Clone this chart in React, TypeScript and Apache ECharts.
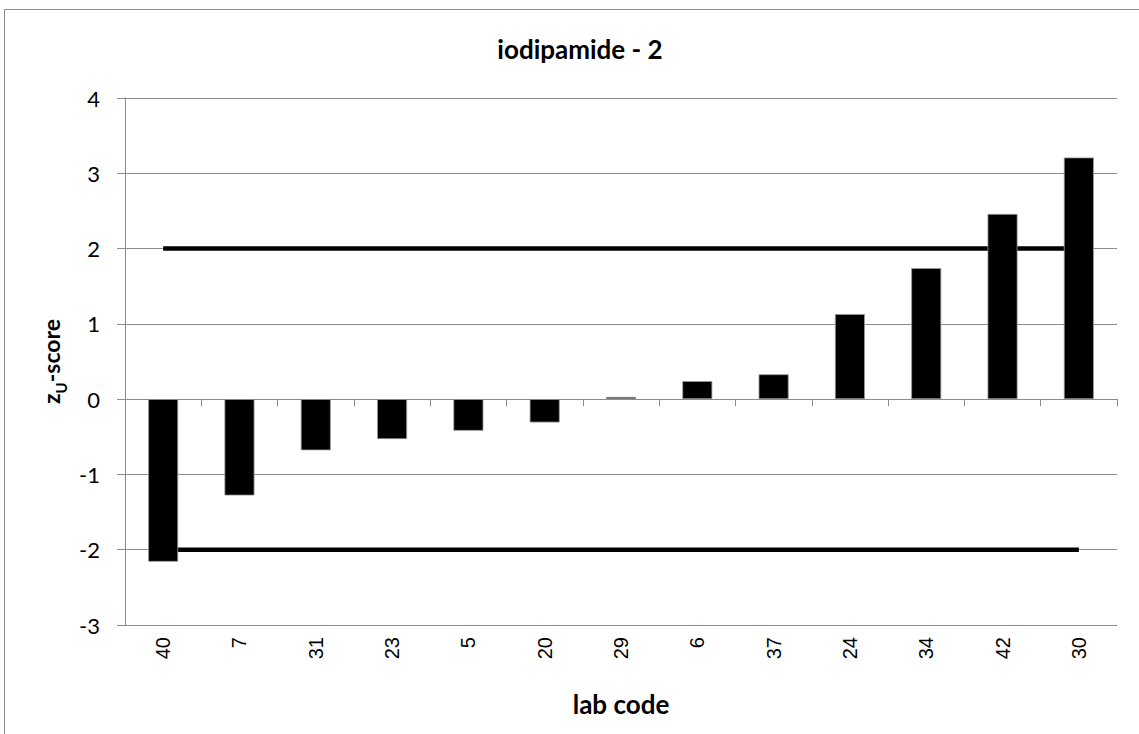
import React, { useEffect, useRef } from "react";
import * as echarts from "echarts";

const labCodes = ["40", "7", "31", "23", "5", "20", "29", "6", "37", "24", "34", "42", "30"];
const zScores = [-2.16, -1.28, -0.68, -0.53, -0.42, -0.31, 0.03, 0.24, 0.33, 1.13, 1.74, 2.46, 3.21];
const upperLimit = labCodes.map(() => 2);
const lowerLimit = labCodes.map(() => -2);
const yTicks = [-3, -2, -1, 0, 1, 2, 3, 4];

const GRID = "#8c8c8c";
const LABEL_FONT = "Lato, 'Open Sans', sans-serif";

export default function App() {
  const ref = useRef<HTMLDivElement>(null);
  useEffect(() => {
    if (!ref.current) return;
    const chart = echarts.init(ref.current, null, { renderer: "svg" });
    chart.setOption({
      animation: false,
      backgroundColor: "#ffffff",
      title: {
        text: "iodipamide - 2",
        left: 575,
        top: 31,
        textAlign: "center",
        textStyle: { fontFamily: LABEL_FONT, fontWeight: "bold", fontSize: 26, color: "#000" },
      },
      graphic: [
        {
          type: "rect",
          shape: { x: 4.5, y: 9.5, width: 1300, height: 900 },
          style: { fill: "none", stroke: "#8c8c8c", lineWidth: 1 },
          silent: true,
        },
      ],
      grid: {
        left: 125,
        right: 22,
        top: 98,
        bottom: 109,
        containLabel: false,
        outerBoundsMode: "none",
      },
      xAxis: {
        type: "category",
        data: labCodes,
        position: "bottom",
        axisLine: { show: true, onZero: true, lineStyle: { color: GRID, width: 1 } },
        axisTick: { show: true, length: 7, lineStyle: { color: GRID } },
        axisLabel: {
          rotate: 90,
          margin: 12,
          fontFamily: "'Liberation Sans', Arial, sans-serif",
          fontSize: 20,
          color: "#000",
        },
        name: "lab code",
        nameLocation: "middle",
        nameGap: 66,
        nameTextStyle: { fontFamily: LABEL_FONT, fontWeight: "bold", fontSize: 26, color: "#000" },
        splitLine: { show: false },
      },
      yAxis: {
        type: "value",
        min: yTicks[0],
        max: yTicks[yTicks.length - 1],
        interval: 1,
        axisLine: { show: true, onZero: false, lineStyle: { color: GRID, width: 1 } },
        axisTick: { show: true, length: 8, lineStyle: { color: GRID } },
        axisLabel: { margin: 25, fontFamily: LABEL_FONT, fontSize: 22, color: "#000" },
        splitLine: { show: true, lineStyle: { color: GRID, width: 1 } },
        name: "{a|z}{b|U}{a|-score}",
        nameLocation: "middle",
        nameGap: 56,
        nameRotate: 90,
        nameTextStyle: {
          rich: {
            a: { fontFamily: LABEL_FONT, fontWeight: "bold", fontSize: 23, color: "#000", lineHeight: 28, verticalAlign: "bottom" },
            b: { fontFamily: LABEL_FONT, fontWeight: "bold", fontSize: 15, color: "#000", lineHeight: 28, verticalAlign: "bottom", padding: [0, 0, -6, 0] },
          },
        },
      },
      series: [
        {
          type: "line",
          name: "upper",
          data: upperLimit,
          symbol: "none",
          lineStyle: { color: "#000", width: 4.5 },
          z: 1,
        },
        {
          type: "line",
          name: "lower",
          data: lowerLimit,
          symbol: "none",
          lineStyle: { color: "#000", width: 4.5 },
          z: 1,
        },
        {
          type: "bar",
          name: "z-score",
          data: zScores,
          barWidth: 30,
          itemStyle: { color: "#000", borderColor: "#9a9a9a", borderWidth: 0.8 },
          z: 3,
        },
      ],
    });
    return () => chart.dispose();
  }, []);
  return (
    <div
      ref={ref}
      style={{ position: "fixed", left: 0, top: 0, width: 1139, height: 734, background: "#fff" }}
    />
  );
}
